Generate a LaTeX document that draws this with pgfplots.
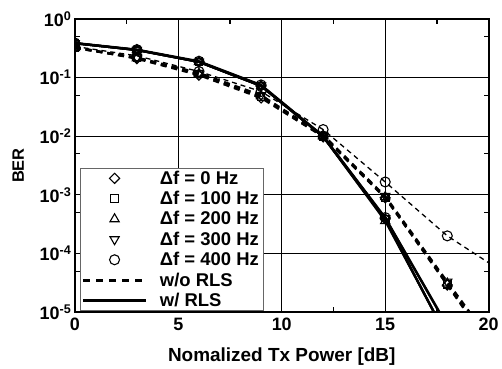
\documentclass[border=0pt]{standalone}
\usepackage{fontspec}
\setmainfont{Liberation Sans}
\usepackage{pgfplots}
\pgfplotsset{compat=1.18}
\pgfplotsset{
  rls/.style={black, line width=2.2pt, solid, every mark/.append style={solid, fill=white, line width=1.1pt}},
  norls/.style={black, line width=2.2pt, dash pattern=on 6pt off 5pt, every mark/.append style={solid, fill=white, line width=1.1pt}},
  norlsthin/.style={black, line width=1.3pt, dash pattern=on 5pt off 4pt, every mark/.append style={solid, fill=white, line width=1.1pt}},
  mdia/.style={mark=square, mark size=3.6pt, every mark/.append style={rotate=45}},
  msq/.style={mark=square, mark size=3.8pt},
  mtri/.style={mark=triangle, mark size=5.3pt},
  mitri/.style={mark=triangle, mark size=5.3pt, every mark/.append style={rotate=180}},
  mcirc/.style={mark=o, mark size=5pt},
}
\begin{document}
\begin{tikzpicture}
\begin{axis}[
  scale only axis, width=415pt, height=294pt,
  xmin=0, xmax=20, ymode=log, ymin=1e-5, ymax=1,
  xtick={0,5,10,15,20}, xticklabels={0,5,10,15,20},
  minor xtick={2.5,7.5,12.5,17.5},
  ytick={1,0.1,0.01,0.001,0.0001,0.00001},
  yticklabels={10\textsuperscript{0},10\textsuperscript{-1},10\textsuperscript{-2},10\textsuperscript{-3},10\textsuperscript{-4},10\textsuperscript{-5}},
  minor ytick={0.5,0.05,0.005,0.0005,0.00005},
  grid=major, major grid style={black, line width=0.9pt},
  axis line style={line width=1.8pt},
  major tick length=5pt, minor tick length=5pt,
  tick style={black, line width=1.2pt},
  ticklabel style={font=\fontsize{18}{21}\selectfont\bfseries},
  xticklabel style={anchor=north, yshift=-2.5pt},
  xlabel={Nomalized Tx Power [dB]}, ylabel={BER},
  every axis x label/.style={at={(axis description cs:0.5,-0.152)}, anchor=center, font=\fontsize{19}{22}\selectfont\bfseries},
  every axis y label/.style={at={(axis description cs:-0.137,0.5)}, rotate=90, anchor=center, font=\fontsize{16.5}{19}\selectfont\bfseries},
  clip marker paths=true,
  legend cell align=left,
  legend image code/.code={\pgfpathrectangle{\pgfpoint{0pt}{-4pt}}{\pgfpoint{63pt}{8pt}}\pgfusepath{use as bounding box}\draw[mark repeat=2,mark phase=2,#1] plot coordinates {(0pt,0pt) (31.5pt,0pt) (63pt,0pt)};},
  legend style={at={(0.012,0.003)}, anchor=south west, draw=black!60, line width=0.8pt, fill=white,
    font=\fontsize{18.5}{22}\selectfont\bfseries, inner xsep=3pt, inner ysep=1pt, row sep=1.5pt,
    /tikz/every odd column/.append style={column sep=12pt}},
]
\coordinate (bl) at (rel axis cs:0,0);
\coordinate (tr) at (rel axis cs:1,1);
% without RLS (dashed)
\addplot[norls, mdia, forget plot] coordinates {(0,0.33) (3,0.21) (6,0.11) (9,0.045) (12,0.0098) (15,8.9e-4) (18,2.9e-5) (21,9e-7)};
\addplot[norls, msq, forget plot] coordinates {(0,0.33) (3,0.215) (6,0.115) (9,0.047) (12,0.0100) (15,9.0e-4) (18,3.0e-5) (21,1e-6)};
\addplot[norls, mtri, forget plot] coordinates {(0,0.32) (3,0.215) (6,0.117) (9,0.048) (12,0.0102) (15,9.2e-4) (18,3.1e-5) (21,1.1e-6)};
\addplot[norls, mitri, forget plot] coordinates {(0,0.32) (3,0.22) (6,0.12) (9,0.050) (12,0.0105) (15,9.5e-4) (18,3.3e-5) (21,1.2e-6)};
\addplot[norlsthin, mcirc, forget plot] coordinates {(0,0.34) (3,0.235) (6,0.127) (9,0.058) (12,0.013) (15,1.66e-3) (18,2.0e-4) (21,4.1e-5)};
% with RLS (solid)
\addplot[rls, mdia, forget plot] coordinates {(0,0.385) (3,0.295) (6,0.185) (9,0.072) (12,0.0098) (15,3.9e-4) (18,3.6e-6)};
\addplot[rls, msq, forget plot] coordinates {(0,0.385) (3,0.295) (6,0.185) (9,0.072) (12,0.0098) (15,3.8e-4) (18,3.7e-6)};
\addplot[rls, mtri, forget plot] coordinates {(0,0.385) (3,0.295) (6,0.185) (9,0.072) (12,0.0099) (15,3.6e-4) (18,3.8e-6)};
\addplot[rls, mitri, forget plot] coordinates {(0,0.385) (3,0.296) (6,0.186) (9,0.073) (12,0.0100) (15,4.0e-4) (18,5.7e-6)};
\addplot[rls, mcirc, forget plot] coordinates {(0,0.39) (3,0.30) (6,0.19) (9,0.075) (12,0.0101) (15,4.1e-4) (18,5.9e-6)};
% legend
\addlegendimage{only marks, mdia, black, every mark/.append style={fill=white, line width=1.1pt}}
\addlegendentry{Δf = 0 Hz}
\addlegendimage{only marks, msq, black, every mark/.append style={fill=white, line width=1.1pt}}
\addlegendentry{Δf = 100 Hz}
\addlegendimage{only marks, mtri, black, every mark/.append style={fill=white, line width=1.1pt}}
\addlegendentry{Δf = 200 Hz}
\addlegendimage{only marks, mitri, black, every mark/.append style={fill=white, line width=1.1pt}}
\addlegendentry{Δf = 300 Hz}
\addlegendimage{only marks, mcirc, black, every mark/.append style={fill=white, line width=1.1pt}}
\addlegendentry{Δf = 400 Hz}
\addlegendimage{black, line width=3pt, dash pattern=on 7pt off 6pt}
\addlegendentry{w/o RLS}
\addlegendimage{black, line width=3pt, solid}
\addlegendentry{w/ RLS}
\end{axis}
\path ([shift={(-75pt,-56pt)}]bl) rectangle ([shift={(12pt,19pt)}]tr);
\end{tikzpicture}
\end{document}
